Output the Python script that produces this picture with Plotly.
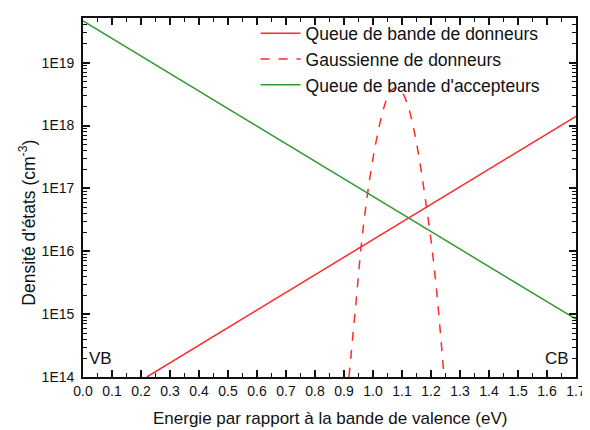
import plotly.graph_objects as go

# donnees
x_donneurs = [0.22, 1.70]
y_donneurs = [1.0e14, 1.4e18]

x_gauss = [0.917, 0.94, 0.96, 0.98, 1.00, 1.02, 1.04, 1.06, 1.08, 1.10, 1.12, 1.14, 1.16, 1.18, 1.20, 1.22, 1.245]
y_gauss = [1.0e14, 1.3e15, 1.3e16, 7.5e16, 3.0e17, 9.0e17, 2.1e18, 3.5e18, 4.0e18, 3.4e18, 2.1e18, 9.0e17, 2.9e17, 7.0e16, 1.5e16, 2.2e15, 1.0e14]

x_accepteurs = [0.0, 1.70]
y_accepteurs = [4.6e19, 8.3e14]

ytick_vals = [1e14, 1e15, 1e16, 1e17, 1e18, 1e19]
ytick_text = ["1E14", "1E15", "1E16", "1E17", "1E18", "1E19"]
xtick_vals = [round(i * 0.1, 1) for i in range(18)]
xtick_text = ["%.1f" % v for v in xtick_vals]

rouge = "#ff2a2a"
vert = "#2f9a2f"
police = "Arial, Liberation Sans, sans-serif"
noir = "#111111"

fig = go.Figure()
fig.add_trace(go.Scatter(
    name="Queue de bande de donneurs",
    mode="lines", x=x_donneurs, y=y_donneurs,
    line={"color": rouge, "width": 1.5}))
fig.add_trace(go.Scatter(
    name="Gaussienne de donneurs",
    mode="lines", x=x_gauss, y=y_gauss, line_shape="spline",
    line={"color": rouge, "width": 1.5, "dash": "dash"}))
fig.add_trace(go.Scatter(
    name="Queue de bande d'accepteurs",
    mode="lines", x=x_accepteurs, y=y_accepteurs,
    line={"color": vert, "width": 1.5}))
# trace invisible pour les axes des petites graduations
fig.add_trace(go.Scatter(x=[0.5], y=[1e16], xaxis="x2", yaxis="y2", mode="markers",
                         marker={"opacity": 0}, showlegend=False, hoverinfo="skip"))

fig.add_annotation(x=0.0, y=14.3, text="VB", showarrow=False, xanchor="left",
                   xshift=4, font={"size": 17, "color": noir})
fig.add_annotation(x=1.7, y=14.3, text="CB", showarrow=False, xanchor="right",
                   xshift=-5, font={"size": 17, "color": noir})

# titres des axes
fig.add_annotation(xref="paper", yref="paper", x=0, y=0.43, xshift=-56,
                   text="Densité d'états (cm<sup>-3</sup>)", textangle=-90, showarrow=False,
                   xanchor="center", yanchor="middle", font={"size": 17.5, "color": noir})
fig.add_annotation(xref="paper", yref="paper", x=0.5, y=0, yshift=-41,
                   text="Energie par rapport à la bande de valence (eV)", showarrow=False,
                   xanchor="center", yanchor="middle", font={"size": 17, "color": noir})

minor_y = [float(m) * 10.0 ** e for e in range(14, 20) for m in range(2, 10)]

fig.update_layout(
    width=582, height=422,
    margin=dict(l=75, r=14, t=7, b=53),
    paper_bgcolor="white", plot_bgcolor="white",
    font=dict(family=police, size=14, color=noir),
    showlegend=True,
    legend=dict(x=0.35, y=1.007, xanchor="left", yanchor="top",
                bgcolor="rgba(0,0,0,0)", font=dict(size=17.5),
                tracegroupgap=0, itemwidth=40),
    xaxis=dict(
        range=[0, 1.7], tickmode="array", tickvals=xtick_vals, ticktext=xtick_text,
        automargin=False, ticklabeloverflow="allow",
        ticks="inside", ticklen=7, tickwidth=1.5, tickcolor=noir,
        showline=True, linecolor=noir, linewidth=1.8, mirror="allticks",
        showgrid=False, zeroline=False, tickfont=dict(size=14),
    ),
    yaxis=dict(
        type="log", range=[14, 19.71], tickmode="array", tickvals=ytick_vals, ticktext=ytick_text,
        automargin=False, ticklabelstandoff=4,
        ticks="inside", ticklen=7, tickwidth=1.5, tickcolor=noir,
        showline=True, linecolor=noir, linewidth=1.8, mirror="allticks",
        showgrid=False, zeroline=False, tickfont=dict(size=14),
    ),
    xaxis2=dict(
        overlaying="x", anchor="y", range=[0, 1.7], tickmode="linear", tick0=0.05, dtick=0.1,
        ticks="inside", ticklen=4, tickwidth=1.3, tickcolor=noir, mirror="allticks",
        showticklabels=False, showline=False, showgrid=False, zeroline=False, automargin=False,
    ),
    yaxis2=dict(
        overlaying="y", anchor="x", type="log", range=[14, 19.71],
        tickmode="array", tickvals=minor_y,
        ticks="inside", ticklen=4, tickwidth=1.3, tickcolor=noir, mirror="allticks",
        showticklabels=False, showline=False, showgrid=False, zeroline=False, automargin=False,
    ),
)

fig.write_html("out.html")
